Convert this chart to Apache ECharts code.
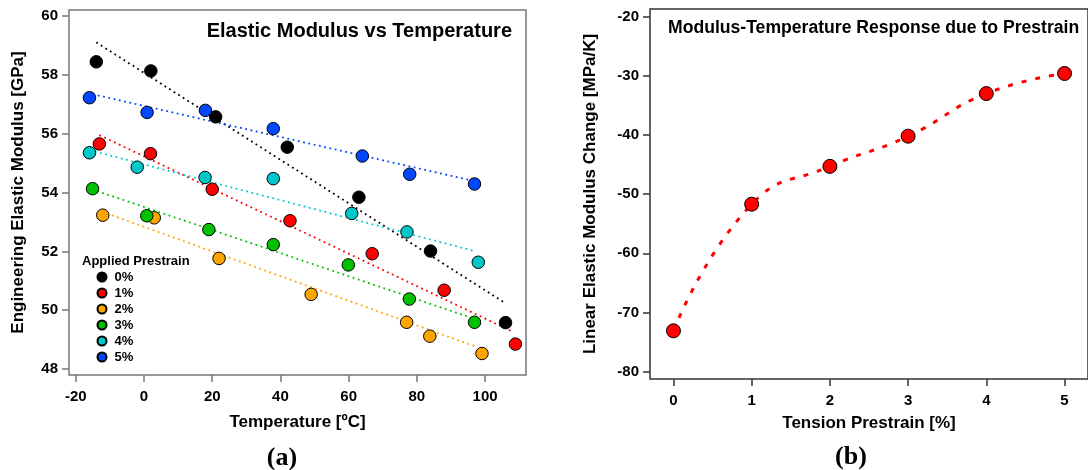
<!DOCTYPE html>
<html>
<head>
<meta charset="utf-8">
<title>Elastic Modulus vs Temperature</title>
<script src="https://cdn.jsdelivr.net/npm/echarts@6/dist/echarts.min.js"></script>
<style>
  html, body { margin: 0; padding: 0; background: #ffffff; }
  #chart { width: 1088px; height: 470px; }
</style>
</head>
<body>
<div id="chart"></div>
<script>
// ---- Panel (a): modulus measured at each temperature, per applied prestrain ----
const prestrainNames = ['0%', '1%', '2%', '3%', '4%', '5%'];
const prestrainColors = ['#000000', '#ff0000', '#ffa500', '#00c000', '#00c8c8', '#0047ff'];

const temp0 = [-14.0, 2.0, 21.0, 42.0, 63.0, 84.0, 106.0];
const mod0  = [58.44, 58.13, 56.57, 55.54, 53.84, 52.01, 49.58];
const temp1 = [-13.1, 1.9, 20.0, 42.8, 66.9, 88.0, 108.9];
const mod1  = [55.65, 55.32, 54.11, 53.04, 51.92, 50.68, 48.85];
const temp2 = [-12.1, 3.0, 22.0, 49.0, 77.0, 83.8, 99.1];
const mod2  = [53.23, 53.14, 51.76, 50.54, 49.59, 49.12, 48.53];
const temp3 = [-15.1, 0.8, 19.0, 37.9, 59.9, 77.8, 96.9];
const mod3  = [54.13, 53.21, 52.74, 52.23, 51.54, 50.38, 49.59];
const temp4 = [-16.0, -2.0, 17.9, 37.9, 60.9, 77.1, 98.0];
const mod4  = [55.35, 54.86, 54.51, 54.47, 53.29, 52.66, 51.63];
const temp5 = [-16.0, 0.9, 18.0, 37.9, 64.0, 77.9, 96.9];
const mod5  = [57.22, 56.72, 56.79, 56.17, 55.24, 54.62, 54.29];

// linear fit end points (temperature, modulus) for each prestrain
const fitTemp0 = [-14.0, 105.4]; const fitMod0 = [59.10, 50.28];
const fitTemp1 = [-13.1, 108.3]; const fitMod1 = [55.95, 49.26];
const fitTemp2 = [-10.9, 97.6];  const fitMod2 = [53.29, 48.75];
const fitTemp3 = [-13.8, 96.6];  const fitMod3 = [54.05, 49.72];
const fitTemp4 = [-16.0, 96.6];  const fitMod4 = [55.44, 52.02];
const fitTemp5 = [-15.1, 95.6];  const fitMod5 = [57.34, 54.42];

const tempTicks = [-20, 0, 20, 40, 60, 80, 100];
const modTicks  = [48, 50, 52, 54, 56, 58, 60];

// ---- Panel (b): fitted slope vs prestrain ----
const prestrainPct  = [0, 1, 2, 3, 4, 5];
const slopeMPaPerK  = [-73.1, -51.7, -45.3, -40.2, -33.0, -29.6];
const pctTicks   = [0, 1, 2, 3, 4, 5];
const slopeTicks = [-80, -70, -60, -50, -40, -30, -20];

const temps = [temp0, temp1, temp2, temp3, temp4, temp5];
const mods  = [mod0, mod1, mod2, mod3, mod4, mod5];
const fitTemps = [fitTemp0, fitTemp1, fitTemp2, fitTemp3, fitTemp4, fitTemp5];
const fitMods  = [fitMod0, fitMod1, fitMod2, fitMod3, fitMod4, fitMod5];

const zip = (xs, ys) => xs.map((x, i) => [x, ys[i]]);

const FONT = '"Liberation Sans", Arial, sans-serif';
const SERIF = '"Liberation Serif", "Times New Roman", serif';

const series = [];
// dotted trend lines first so markers sit on top
prestrainNames.forEach((name, i) => {
  series.push({
    name: 'fit ' + name,
    type: 'line',
    xAxisIndex: 0, yAxisIndex: 0,
    data: zip(fitTemps[i], fitMods[i]),
    symbol: 'none',
    silent: true,
    z: 2,
    lineStyle: { color: prestrainColors[i], width: 1.8, type: [1.8, 3.6], cap: 'butt' }
  });
});
prestrainNames.forEach((name, i) => {
  series.push({
    name: name,
    type: 'scatter',
    xAxisIndex: 0, yAxisIndex: 0,
    data: zip(temps[i], mods[i]),
    symbol: 'circle',
    symbolSize: 12.5,
    z: 3 + i,
    itemStyle: { color: prestrainColors[i], borderColor: '#000000', borderWidth: 1, opacity: 1 }
  });
});
// panel (b): dashed smooth curve and markers
series.push({
  name: 'slope curve',
  type: 'line',
  xAxisIndex: 1, yAxisIndex: 1,
  data: zip(prestrainPct, slopeMPaPerK),
  smooth: 0.5,
  symbol: 'none',
  silent: true,
  z: 2,
  lineStyle: { color: '#ff0000', width: 3, type: [5, 9], cap: 'butt' }
});
series.push({
  name: 'slope',
  type: 'scatter',
  xAxisIndex: 1, yAxisIndex: 1,
  data: zip(prestrainPct, slopeMPaPerK),
  symbol: 'circle',
  symbolSize: 14,
  z: 3,
  itemStyle: { color: '#ff0000', borderColor: '#000000', borderWidth: 1, opacity: 1 }
});

const axisText = { fontFamily: FONT, fontWeight: 'bold', fontSize: 15, color: '#000000' };
const nameText = { fontFamily: FONT, fontWeight: 'bold', fontSize: 17, color: '#000000' };

const option = {
  backgroundColor: '#ffffff',
  animation: false,
  grid: [
    { left: 69, top: 10, width: 457, height: 365, show: true, borderColor: '#777777', borderWidth: 1.5, backgroundColor: 'transparent' },
    { left: 650, top: 9, width: 448, height: 370, show: true, borderColor: '#333333', borderWidth: 1.5, backgroundColor: 'transparent' }
  ],
  xAxis: [
    {
      type: 'value', gridIndex: 0, min: -22, max: 112,
      name: 'Temperature [ºC]', nameLocation: 'middle', nameGap: 39, nameTextStyle: nameText,
      axisLine: { show: false, onZero: false },
      axisTick: { show: true, inside: false, length: 7, customValues: tempTicks, lineStyle: { color: '#777777', width: 1.5 } },
      axisLabel: { show: true, margin: 14, customValues: tempTicks, ...axisText },
      splitLine: { show: false }
    },
    {
      type: 'value', gridIndex: 1, min: -0.3, max: 5.3,
      name: 'Tension Prestrain [%]', nameLocation: 'middle', nameGap: 36, nameTextStyle: nameText,
      axisLine: { show: false, onZero: false },
      axisTick: { show: true, inside: false, length: 7, customValues: pctTicks, lineStyle: { color: '#333333', width: 1.5 } },
      axisLabel: { show: true, margin: 14, customValues: pctTicks, ...axisText },
      splitLine: { show: false }
    }
  ],
  yAxis: [
    {
      type: 'value', gridIndex: 0, min: 47.8, max: 60.2,
      name: 'Engineering Elastic Modulus [GPa]', nameLocation: 'middle', nameGap: 42, nameRotate: 90, nameTextStyle: nameText,
      axisLine: { show: false, onZero: false },
      axisTick: { show: true, inside: false, length: 7, customValues: modTicks, lineStyle: { color: '#777777', width: 1.5 } },
      axisLabel: { show: true, margin: 11, customValues: modTicks, ...axisText },
      splitLine: { show: false }
    },
    {
      type: 'value', gridIndex: 1, min: -81.25, max: -18.7,
      name: 'Linear Elastic Modulus Change [MPa/K]', nameLocation: 'middle', nameGap: 51, nameRotate: 90, nameTextStyle: nameText,
      axisLine: { show: false, onZero: false },
      axisTick: { show: true, inside: false, length: 7, customValues: slopeTicks, lineStyle: { color: '#333333', width: 1.5 } },
      axisLabel: { show: true, margin: 11, customValues: slopeTicks, ...axisText },
      splitLine: { show: false }
    }
  ],
  legend: {
    data: prestrainNames,
    orient: 'vertical',
    left: 91.5, top: 264,
    itemWidth: 9, itemHeight: 9, itemGap: 0,
    icon: 'circle',
    selectedMode: false,
    textStyle: { fontFamily: FONT, fontWeight: 'bold', fontSize: 13, color: '#000000', lineHeight: 16, padding: [0, 0, 0, 3] }
  },
  graphic: [
    { type: 'text', left: 82, top: 255, style: { text: 'Applied Prestrain', fontFamily: FONT, fontWeight: 'bold', fontSize: 13, fill: '#000000' } },
    { type: 'text', right: 1088 - 512, top: 21, style: { text: 'Elastic Modulus vs Temperature', fontFamily: FONT, fontWeight: 'bold', fontSize: 20, fill: '#000000', textAlign: 'right' } },
    { type: 'text', left: 668, top: 19, style: { text: 'Modulus-Temperature Response due to Prestrain', fontFamily: FONT, fontWeight: 'bold', fontSize: 17.6, fill: '#000000' } },
    { type: 'text', x: 282, y: 458, style: { text: '(a)', fontFamily: SERIF, fontWeight: 'bold', fontSize: 26, fill: '#000000', align: 'center', verticalAlign: 'middle' } },
    { type: 'text', x: 851, y: 457, style: { text: '(b)', fontFamily: SERIF, fontWeight: 'bold', fontSize: 26, fill: '#000000', align: 'center', verticalAlign: 'middle' } }
  ],
  series: series
};

const chart = echarts.init(document.getElementById('chart'), null, { renderer: 'canvas' });
chart.setOption(option);
</script>
</body>
</html>
